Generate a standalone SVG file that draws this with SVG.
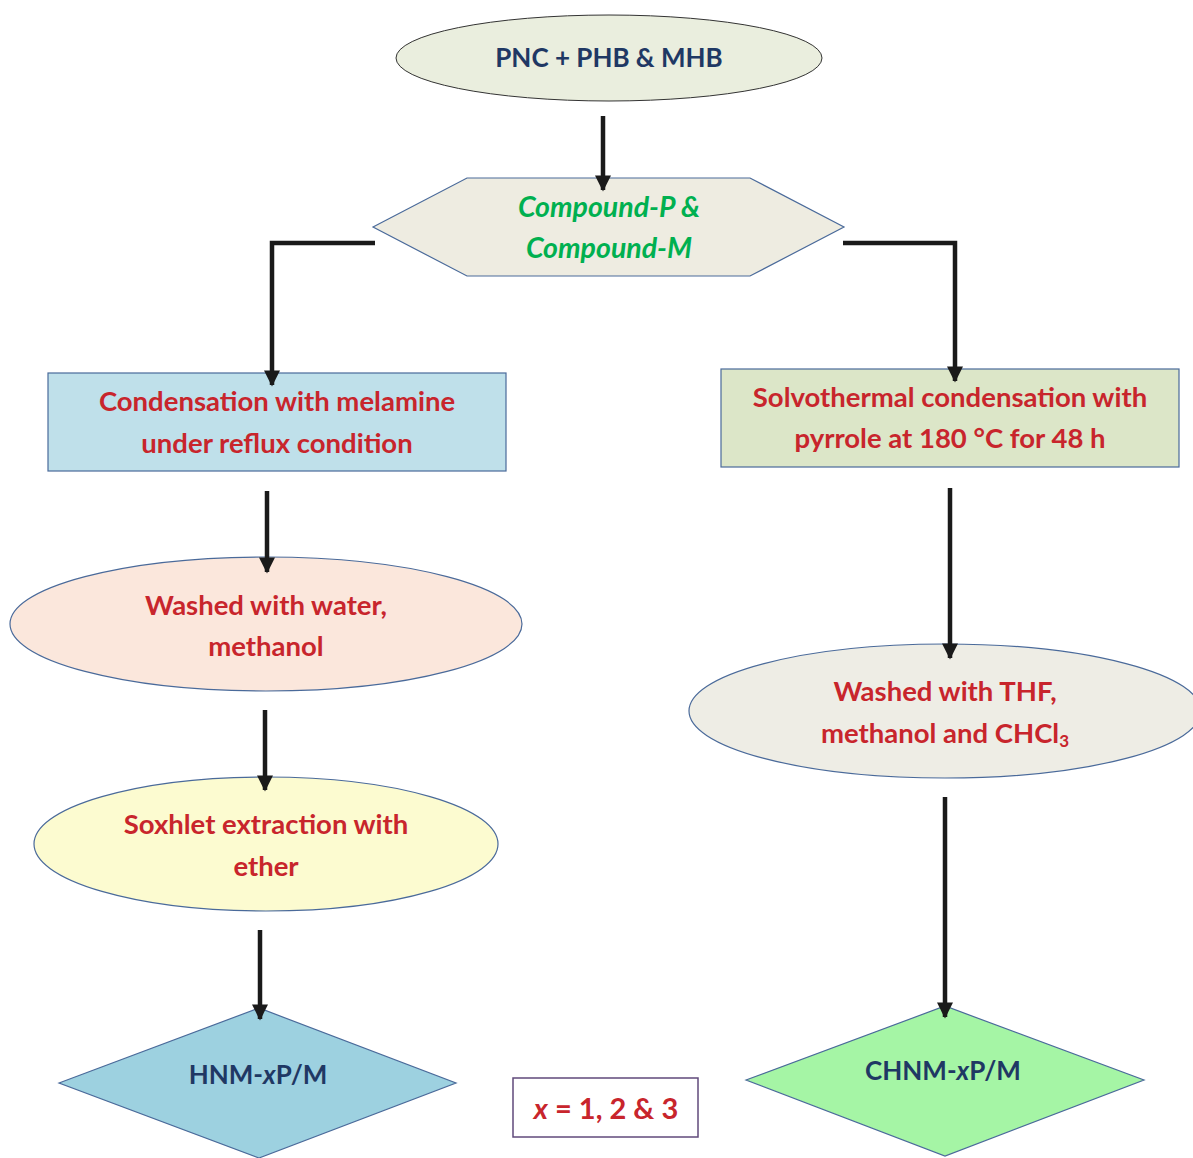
<svg xmlns="http://www.w3.org/2000/svg" width="1193" height="1158" viewBox="0 0 1193 1158">
<style>
  text { font-family: Lato, "Open Sans", "Liberation Sans", sans-serif; font-weight: bold; text-anchor: middle; }
  .red { fill: #c8252c; font-size: 27.5px; }
  .navy { fill: #1f3864; font-size: 26px; }
  .green { fill: #00b050; font-size: 28.5px; font-style: italic; }
  .note { fill: #c8252c; font-size: 29px; }
  .outline { stroke: #4a6a9a; stroke-width: 1.2; }
  .conn { stroke: #1a1a1a; stroke-width: 4.5; fill: none; }
</style>
<defs>
  <marker id="ah" viewBox="0 0 10 10" refX="9" refY="5" markerWidth="3.6" markerHeight="3.6" orient="auto" markerUnits="strokeWidth">
    <path d="M0,0 L10,5 L0,10 z" fill="#1a1a1a"/>
  </marker>
</defs>
<rect width="1193" height="1158" fill="#ffffff"/>

<g id="start">
  <ellipse cx="609" cy="58" rx="213" ry="43" fill="#eaeede" stroke="#333333" stroke-width="1"/>
  <text class="navy" x="609" y="67">PNC + PHB &amp; MHB</text>
</g>

<g id="compound">
  <polygon points="373,227 467,178 750,178 844,227 750,276 467,276" fill="#eeece1" class="outline"/>
  <text class="green" x="609" y="217">Compound-P &amp;</text>
  <text class="green" x="609" y="258">Compound-M</text>
</g>

<g id="condensation">
  <rect x="48" y="373" width="458" height="98" fill="#bfe0ea" class="outline"/>
  <text class="red" x="277" y="411">Condensation with melamine</text>
  <text class="red" x="277" y="453">under reflux condition</text>
</g>

<g id="solvothermal">
  <rect x="721" y="369" width="458" height="98" fill="#dce6c8" class="outline"/>
  <text class="red" x="950" y="407">Solvothermal condensation with</text>
  <text class="red" x="950" y="448">pyrrole at 180 °C for 48 h</text>
</g>

<g id="wash1">
  <ellipse cx="266" cy="624" rx="256" ry="67" fill="#fbe7dc" class="outline"/>
  <text class="red" x="266" y="615">Washed with water,</text>
  <text class="red" x="266" y="656">methanol</text>
</g>

<g id="soxhlet">
  <ellipse cx="266" cy="844" rx="232" ry="67" fill="#fcfbd0" class="outline"/>
  <text class="red" x="266" y="834">Soxhlet extraction with</text>
  <text class="red" x="266" y="876">ether</text>
</g>

<g id="wash2">
  <ellipse cx="945" cy="711" rx="256" ry="67" fill="#eeede5" class="outline"/>
  <text class="red" x="945" y="701">Washed with THF,</text>
  <text class="red" x="945" y="743">methanol and CHCl<tspan font-size="17" dy="4">3</tspan></text>
</g>

<g id="hnm">
  <polygon points="59,1083 259,1008 456,1083 259,1158" fill="#9dd1e0" class="outline"/>
  <text class="navy" x="258" y="1084">HNM-<tspan font-style="italic">x</tspan>P/M</text>
</g>

<g id="chnm">
  <polygon points="746,1080 945,1006 1144,1080 945,1156" fill="#a5f5a5" class="outline"/>
  <text class="navy" x="943" y="1080">CHNM-<tspan font-style="italic">x</tspan>P/M</text>
</g>

<g id="note">
  <rect x="513" y="1078" width="185" height="59" fill="#ffffff" stroke="#604a7b" stroke-width="1.5"/>
  <text class="note" x="606" y="1119"><tspan font-style="italic">x</tspan> = 1, 2 &amp; 3</text>
</g>

<g id="connectors">
  <line class="conn" x1="603" y1="116" x2="603" y2="190" marker-end="url(#ah)"/>
  <polyline class="conn" points="375,243 272,243 272,385" marker-end="url(#ah)"/>
  <polyline class="conn" points="843,243 955,243 955,381" marker-end="url(#ah)"/>
  <line class="conn" x1="267" y1="491" x2="267" y2="572" marker-end="url(#ah)"/>
  <line class="conn" x1="265" y1="710" x2="265" y2="790" marker-end="url(#ah)"/>
  <line class="conn" x1="260" y1="930" x2="260" y2="1019" marker-end="url(#ah)"/>
  <line class="conn" x1="950" y1="488" x2="950" y2="658" marker-end="url(#ah)"/>
  <line class="conn" x1="945" y1="797" x2="945" y2="1017" marker-end="url(#ah)"/>
</g>
</svg>
